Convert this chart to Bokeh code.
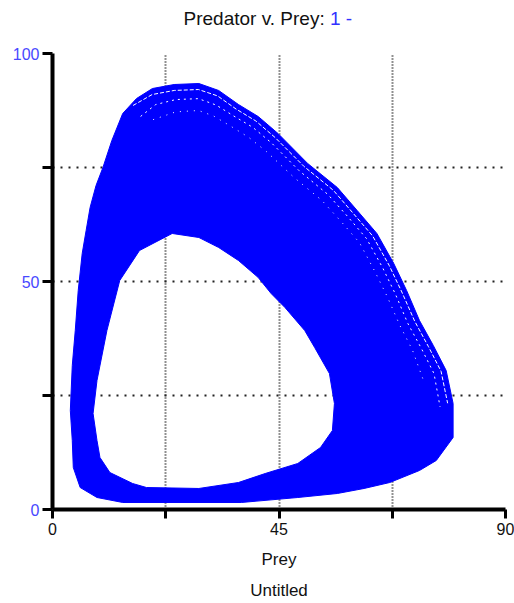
from bokeh.plotting import figure
from bokeh.models import Range1d, FixedTicker, Label, Title
from bokeh.layouts import column
from bokeh.embed import file_html
from bokeh.resources import INLINE

# Outer boundary of the orbit band (Prey, Predator)
outer_prey = [5.50, 4.13, 3.93, 3.54, 3.93, 4.52, 5.11, 5.90, 6.68, 7.47, 8.65, 10.02, 11.79, 13.95,
              16.70, 19.85, 24.17, 29.08, 33.01, 36.94, 40.87, 44.80, 50.70, 56.59, 60.53, 64.45,
              67.80, 70.35, 72.91, 75.66, 78.21, 79.59, 79.59, 76.25, 72.91, 67.01, 61.90, 56.59,
              48.73, 37.53, 13.95, 8.84]
outer_pred = [4.82, 9.21, 15.13, 21.71, 31.58, 39.25, 48.03, 56.14, 61.18, 66.23, 71.05, 75.00, 80.92, 86.84,
              90.13, 92.32, 93.20, 93.42, 91.89, 88.82, 86.18, 82.46, 75.88, 70.61, 65.57, 60.53,
              53.95, 48.03, 41.45, 35.96, 30.48, 23.25, 15.79, 10.75, 8.55, 5.92, 4.61, 3.51,
              2.63, 1.54, 1.54, 2.63]

# Inner (empty) region of the band
inner_prey = [23.78, 29.08, 33.01, 36.94, 40.87, 43.43, 46.18, 50.11, 52.08, 55.02, 56.01, 55.61,
              53.25, 48.73, 42.25, 36.94, 29.08, 18.67, 15.92, 11.40, 9.43, 8.84, 8.06, 8.84,
              10.81, 13.36, 17.29]
inner_pred = [60.53, 59.65, 57.46, 54.61, 50.88, 47.37, 44.30, 39.25, 35.53, 29.82, 23.25, 17.32,
              13.60, 10.09, 7.89, 5.92, 4.61, 4.82, 5.70, 8.11, 11.40, 15.13, 21.05, 28.29,
              39.25, 50.22, 56.80]

# Visible gaps between neighbouring orbits near the outer edge
gap1_prey = [16.0, 19.8, 24.2, 29.0, 32.8, 36.5, 40.4, 44.2, 50.0, 55.8, 59.7, 63.6, 66.9, 69.4,
             72.0, 74.7, 77.2, 78.5]
gap1_pred = [88.6, 91.0, 91.9, 92.1, 90.7, 87.8, 85.2, 81.6, 75.2, 70.0, 65.0, 60.0, 53.5, 47.7,
             41.2, 35.7, 30.3, 23.3]
gap2_prey = [17.5, 20.5, 24.5, 29.0, 32.5, 36.0, 39.8, 43.5, 49.0, 54.7, 58.6, 62.4, 65.6, 68.1,
             70.6, 73.3, 75.8, 77.0]
gap2_pred = [86.2, 88.8, 89.9, 90.1, 88.7, 86.3, 83.8, 80.4, 74.3, 69.1, 64.3, 59.4, 53.0, 47.3,
             40.8, 35.3, 29.8, 22.5]
gap3_prey = [20.0, 24.5, 29.0, 32.0, 35.5, 39.0, 42.5, 48.0, 53.5, 57.3, 61.0, 64.0, 66.5, 69.0,
             71.5, 73.8]
gap3_pred = [85.5, 87.2, 87.5, 86.3, 84.0, 81.6, 78.5, 72.8, 67.8, 63.2, 58.5, 52.3, 46.7, 40.4,
             35.0, 28.0]

x_ticks = [0, 22.5, 45, 67.5, 90]
x_tick_labels = {22.5: "", 67.5: ""}
y_ticks = [0, 25, 50, 75, 100]
y_tick_labels = {25: "", 75: ""}

FONT = "Liberation Sans"

# ---- title strip ----
t = figure(width=514, height=43, output_backend="svg", toolbar_location=None,
           x_range=Range1d(0, 514), y_range=Range1d(0, 43),
           x_axis_type=None, y_axis_type=None, min_border=0)
t.outline_line_color = None
t.grid.visible = False
t.add_layout(Label(x=340, y=25, text="Predator v. Prey: 1 -", text_align="right",
                   text_baseline="alphabetic", text_font=FONT, text_font_size="19px",
                   text_color="#111111"))
t.add_layout(Label(x=340, y=25, text="1 -", text_align="right",
                   text_baseline="alphabetic", text_font=FONT, text_font_size="19px",
                   text_color="#3030ff", background_fill_color="white"))

# ---- main plot ----
p = figure(frame_width=453, frame_height=456, output_backend="svg", toolbar_location=None,
           x_range=Range1d(0, 90), y_range=Range1d(0, 100),
           min_border_left=52, min_border_right=9, min_border_top=10, min_border_bottom=94)
p.outline_line_color = None
p.background_fill_color = "white"
p.border_fill_color = "white"

p.multi_polygons(xs=[[[outer_prey, inner_prey]]], ys=[[[outer_pred, inner_pred]]],
                 fill_color="#0000ff", line_color="#0000ff", line_width=1)
p.line(gap1_prey, gap1_pred, line_color="white", line_width=1, line_dash="4 2")
p.line(gap2_prey, gap2_pred, line_color="white", line_width=1, line_dash="2 4")
p.line(gap3_prey, gap3_pred, line_color="white", line_width=1, line_dash="1 6")

# axes
for ax in (p.xaxis[0], p.yaxis[0]):
    ax.axis_line_width = 4
    ax.axis_line_color = "black"
    ax.major_tick_line_width = 3
    ax.major_tick_line_color = "black"
    ax.minor_tick_line_color = None
    ax.major_tick_in = 0
    ax.major_label_text_font = FONT
    ax.major_label_text_font_size = "16px"

p.xaxis.ticker = FixedTicker(ticks=x_ticks)
p.xaxis.major_label_overrides = x_tick_labels
p.xaxis.major_tick_out = 9
p.xaxis.major_label_standoff = 4
p.xaxis.major_label_text_color = "#111111"
p.xaxis.axis_label = "Prey"
p.xaxis.axis_label_text_font = FONT
p.xaxis.axis_label_text_font_style = "normal"
p.xaxis.axis_label_text_font_size = "17px"
p.xaxis.axis_label_text_color = "#111111"
p.xaxis.axis_label_standoff = 12

p.yaxis.ticker = FixedTicker(ticks=y_ticks)
p.yaxis.major_label_overrides = y_tick_labels
p.yaxis.major_tick_out = 10
p.yaxis.major_label_standoff = 3
p.yaxis.major_label_text_color = "#4848ff"
p.yaxis.major_label_orientation = "horizontal"

p.xgrid.ticker = FixedTicker(ticks=x_ticks)
p.ygrid.ticker = FixedTicker(ticks=y_ticks)
p.xgrid.grid_line_color = "#222222"
p.xgrid.grid_line_dash = "1 2"
p.xgrid.grid_line_width = 2
p.ygrid.grid_line_color = "#222222"
p.ygrid.grid_line_dash = "2 6"
p.ygrid.grid_line_width = 2

p.add_layout(Title(text="Untitled", align="center", text_font=FONT, text_font_size="17px",
                   text_font_style="normal", text_color="#111111", standoff=15), "below")

layout = column(t, p, spacing=0)
open("out.html", "w").write(file_html(layout, INLINE))
